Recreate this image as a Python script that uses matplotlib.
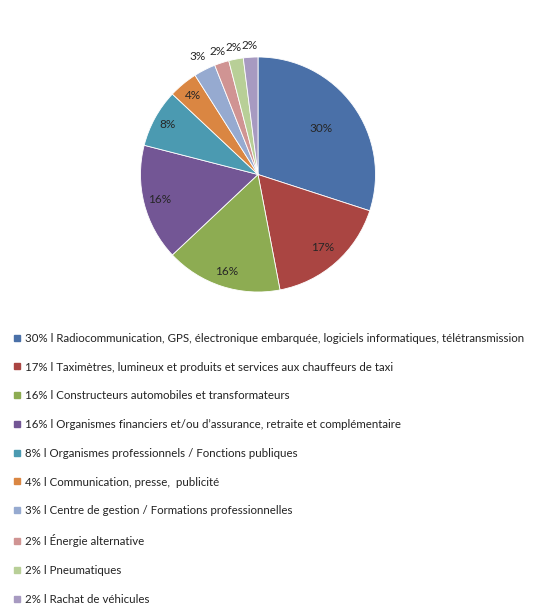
import matplotlib
matplotlib.use('Agg')
import matplotlib.pyplot as plt
from matplotlib.lines import Line2D
import numpy as np

plt.rcParams['font.family'] = ['Lato', 'DejaVu Sans']

shares = [30, 17, 16, 16, 8, 4, 3, 2, 2, 2]
pct_labels = ['30%', '17%', '16%', '16%', '8%', '4%', '3%', '2%', '2%', '2%']
categories = [
    'Radiocommunication, GPS, électronique embarquée, logiciels informatiques, télétransmission',
    'Taximètres, lumineux et produits et services aux chauffeurs de taxi',
    'Constructeurs automobiles et transformateurs',
    'Organismes financiers et/ou d\u2019assurance, retraite et complémentaire',
    'Organismes professionnels / Fonctions publiques',
    'Communication, presse,  publicité',
    'Centre de gestion / Formations professionnelles',
    'Énergie alternative',
    'Pneumatiques',
    'Rachat de véhicules',
]
colors = ['#4A70A8', '#AA4542', '#8DAC52', '#735695', '#4B9AB1',
          '#DA8642', '#96AAD0', '#D09493', '#B8CF97', '#A79AC1']
# label radius per slice (fraction of pie radius)
label_r = [0.66, 0.83, 0.87, 0.86, 0.88, 0.87, 1.13, 1.1, 1.1, 1.1]

fig = plt.figure(figsize=(5.41, 6.10), dpi=100)
ax = fig.add_axes([140.5/541, 1 - 292/610, 235/541, 235/610])
wedges, _ = ax.pie(shares, colors=colors, startangle=90, counterclock=False,
                   radius=1, wedgeprops=dict(edgecolor='white', linewidth=0.6))
for w, lab, r in zip(wedges, pct_labels, label_r):
    ang = np.deg2rad((w.theta1 + w.theta2) / 2)
    ax.text(r*np.cos(ang), r*np.sin(ang), lab, ha='center', va='center',
            fontsize=8.5, color='#262626')
ax.set_xlim(-1, 1)
ax.set_ylim(-1, 1)
ax.set_aspect('equal')
ax.axis('off')

handles = [Line2D([], [], marker='s', linestyle='none', markersize=4.5,
                  markerfacecolor=c, markeredgecolor=c) for c in colors]
labels = [f'{p} l {c}' for p, c in zip(pct_labels, categories)]
fig.legend(handles, labels, loc='upper left', bbox_to_anchor=(8/541, 1 - 327/610),
           frameon=False, fontsize=8.3, labelspacing=1.54, handlelength=0.6,
           handletextpad=0.35, borderpad=0, labelcolor='#222222')

fig.savefig('out.png', dpi=100)
